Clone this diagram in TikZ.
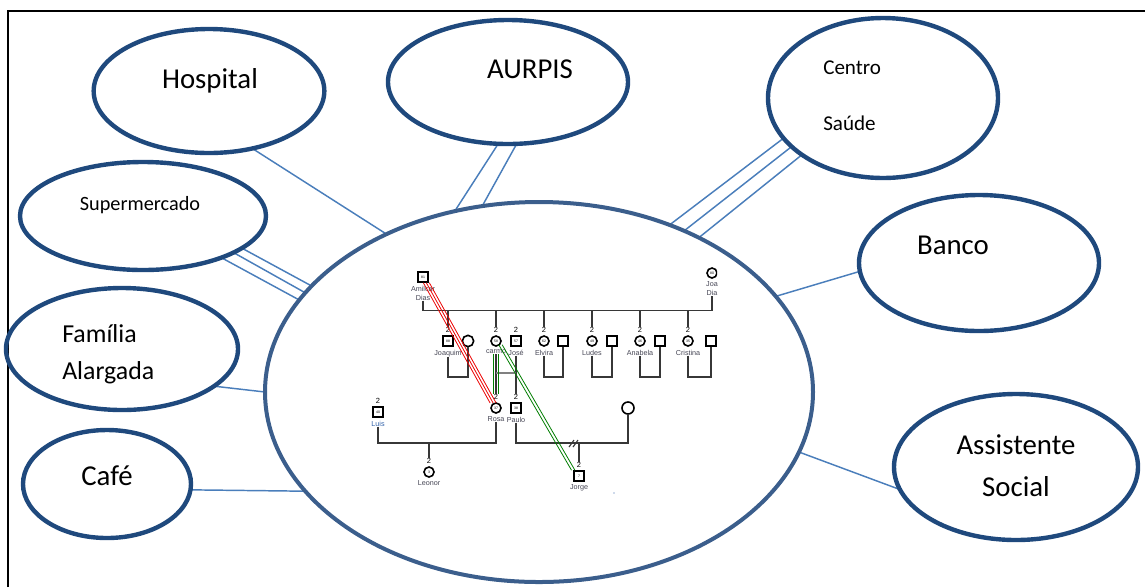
\documentclass[tikz,border=0pt]{standalone}
\usepackage{fontspec}
\setmainfont{Carlito}
\newfontfamily\genofont{Liberation Sans}
\usetikzlibrary{shapes.geometric,positioning,backgrounds}

\definecolor{ringblue}{RGB}{31,73,125}
\definecolor{mainblue}{RGB}{59,94,140}
\definecolor{linkblue}{RGB}{74,126,187}
\definecolor{genogrey}{RGB}{55,55,55}
\definecolor{labgrey}{RGB}{70,70,85}
\definecolor{luisblue}{RGB}{48,96,168}
\definecolor{tiered}{RGB}{235,0,0}
\definecolor{tiegreen}{RGB}{0,125,0}

\tikzset{
  ring/.style={ellipse, draw=ringblue, line width=3.3pt, inner sep=0pt, outer sep=0pt},
  link/.style={draw=linkblue, line width=1.1pt},
  bigtxt/.style={font=\fontsize{21.6}{26}\selectfont, anchor=base, inner sep=0pt},
  midtxt/.style={font=\fontsize{15.8}{19}\selectfont, anchor=base west, inner sep=0pt},
  male/.style={draw, line width=1.2pt, minimum size=7.5pt, inner sep=0pt,
    font=\genofont\fontsize{2.6}{3}\selectfont},
  female/.style={male, circle},
  glab/.style={font=\genofont\fontsize{5.4}{6.75}\selectfont, text=labgrey, inner sep=0pt},
  gnum/.style={font=\genofont\fontsize{5.6}{6}\selectfont, inner sep=0pt},
  gline/.style={draw=genogrey, line width=0.85pt}
}

\begin{document}
\begin{tikzpicture}[x=0.75pt, y=-0.75pt]
\useasboundingbox (0,0) rectangle (1145,587);
\draw[line width=2.2pt] (8,587) -- (8,11) -- (1145,11);

% the rings round the family
\node[ring, minimum width=173pt, minimum height=93pt] (hosp) at (209,91) {};
\node[ring, minimum width=184.5pt, minimum height=81pt] (super) at (143,216) {};
\node[ring, minimum width=180pt, minimum height=93pt] (aurpis) at (508,82) {};
\node[ring, minimum width=172.5pt, minimum height=120pt] (centro) at (883,98) {};
\node[ring, minimum width=180pt, minimum height=102pt] (banco) at (979,263) {};
\node[ring, minimum width=174pt, minimum height=91.5pt] (familia) at (122,349) {};
\node[ring, minimum width=126pt, minimum height=81pt] (cafe) at (107,484) {};
\node[ring, minimum width=183pt, minimum height=109.5pt] (assist) at (1016,467) {};
\node[ring, draw=mainblue, line width=3pt, minimum width=411pt, minimum height=285pt] (main) at (539,392) {};

\node[bigtxt] (hosptxt) at (210,88) {Hospital};
\node[bigtxt] (aurpistxt) at (530,78) {AURPIS};
\node[font=\fontsize{15.2}{18}\selectfont, anchor=base, inner sep=0pt] (supertxt) at (140,210) {Supermercado};
\node[midtxt] (centrotxt) at (823,74) {Centro};
\node[midtxt] (saudetxt) at (823,130) {Saúde};
\node[bigtxt] (bancotxt) at (953,254) {Banco};
\node[midtxt, font=\fontsize{19.4}{23}\selectfont] (famtxt) at (62,342) {Família};
\node[midtxt, font=\fontsize{19.4}{23}\selectfont] (alartxt) at (62,379) {Alargada};
\node[bigtxt] (cafetxt) at (107,485) {Café};
\node[bigtxt] (assisttxt) at (1016,454) {Assistente};
\node[bigtxt] (socialtxt) at (1016,496) {Social};

% genogram
\begin{scope}
\clip (360,255) rectangle (717,505);
\node[male] (amilcar) at (423,277) {81};
\node[female] (joana) at (712,273) {80};
\node[male] (joaquim) at (448,341) {88};
\node[female, minimum size=8.5pt] (joaqw) at (468,341) {};
\node[female] (carmo) at (496,341) {58};
\node[male] (jose) at (516,341) {57};
\node[female] (elvira) at (544,341) {62};
\node[male] (elvirah) at (563,341) {};
\node[female] (ludes) at (592,341) {49};
\node[male] (ludesh) at (612,341) {};
\node[female] (anabela) at (640,341) {46};
\node[male] (anabelah) at (660,341) {};
\node[female] (cristina) at (688,341) {35};
\node[male] (cristinah) at (711,341) {};
\node[female] (rosa) at (496,408) {37};
\node[male] (paulo) at (516,408) {38};
\node[male] (luis) at (378,412) {40};
\node[female] (leonor) at (429,472) {3};
\node[female, minimum size=9pt] (exw) at (628,408) {};
\node[male] (jorge) at (579,476) {7};

\foreach \n in {joaquim,carmo,jose,elvira,ludes,anabela,cristina,rosa,paulo,luis,leonor,jorge}
  \node[gnum, above=1.8pt of \n] (\n-n) {2};
\foreach \n/\t in {joaquim/Joaquim,carmo/carmo,jose/José,elvira/Elvira,ludes/Ludes,anabela/Anabela,cristina/Cristina,rosa/Rosa,paulo/Paulo,leonor/Leonor,jorge/Jorge}
  \node[glab, below=2.2pt of \n] (\n-l) {\t};
\node[glab, text=luisblue, below=2.2pt of luis] (luis-l) {Luis};
\node[glab, align=center, below=2.2pt of amilcar] (amilcar-l) {Amilcar\\Dias};
\node[glab, align=center, below=2.2pt of joana] (joana-l) {Joa\\Dia};

\draw[gline] (amilcar-l.south) -- ++(0,10) coordinate (sib) -| (joana-l.south -| joana);
\foreach \n in {joaquim,carmo,elvira,ludes,anabela,cristina}
  \draw[gline] (sib -| \n) -- (\n-n.north);
\coordinate (cpl) at (0,377);
\foreach \w/\h in {joaquim/joaqw,elvira/elvirah,ludes/ludesh,anabela/anabelah,cristina/cristinah}
  \draw[gline] (\w-l.south) |- (cpl -| \h) -- (\h.south);
\draw[gline] (carmo-l.south) -- (rosa-n.north);
\draw[gline] (jose-l.south) -- (paulo-n.north);
\draw[gline, draw=gray] (carmo |- 0,373) -- (jose |- 0,373);
\coordinate (cplb) at (0,443);
\draw[gline] (luis-l.south) |- (cplb -| rosa) -- (rosa-l.south);
\draw[gline] (cplb -| leonor) -- (leonor-n.north);
\draw[gline] (paulo-l.south) |- (cplb -| exw) -- (exw.south);
\draw[gline] (cplb -| jorge) -- (jorge-n.north);
\draw[gline] (cplb -| jorge) ++(-10,4) -- ++(5,-7) ++(-1,7) -- ++(5,-7);

% relations
\foreach \s in {-3,0,3}
  \draw[tiered, line width=0.6pt, transform canvas={xshift=\s*0.75pt}] (amilcar.-60) -- (rosa.120);
\foreach \s in {-2.3,2.3}
  \draw[tiegreen, line width=0.7pt, transform canvas={xshift=\s*0.75pt}] (carmo-l.south) -- (rosa-n.north);
\foreach \s in {-1.7,1.7}
  \draw[tiegreen, line width=0.6pt, transform canvas={xshift=\s*0.75pt}] (carmo.-40) -- (jorge.north west);
\end{scope}
\fill[luisblue] (614,493) circle (0.5pt);

% links to the family
\begin{scope}[on background layer]
\draw[link] (hosp.-53) -- (main.134);
\foreach \a/\b in {-28/159.3,-22.9/157.3,-18.8/155.4}
  \draw[link] (super.\a) -- (main.\b);
\foreach \a/\b in {-99.6/115.2,-82/107.5}
  \draw[link] (aurpis.\a) -- (main.\b);
\foreach \a/\b in {-158.7/52.4,-152.5/48.5,-145.3/44.9}
  \draw[link] (centro.\a) -- (main.\b);
\draw[link] (banco.-176.7) -- (main.22.5);
\draw[link] (familia.-22.8) -- (main.180);
\draw[link] (cafe.-4) -- (main.-157.5);
\draw[link] (assist.-169) -- (main.-13.5);
\end{scope}
\end{tikzpicture}
\end{document}
